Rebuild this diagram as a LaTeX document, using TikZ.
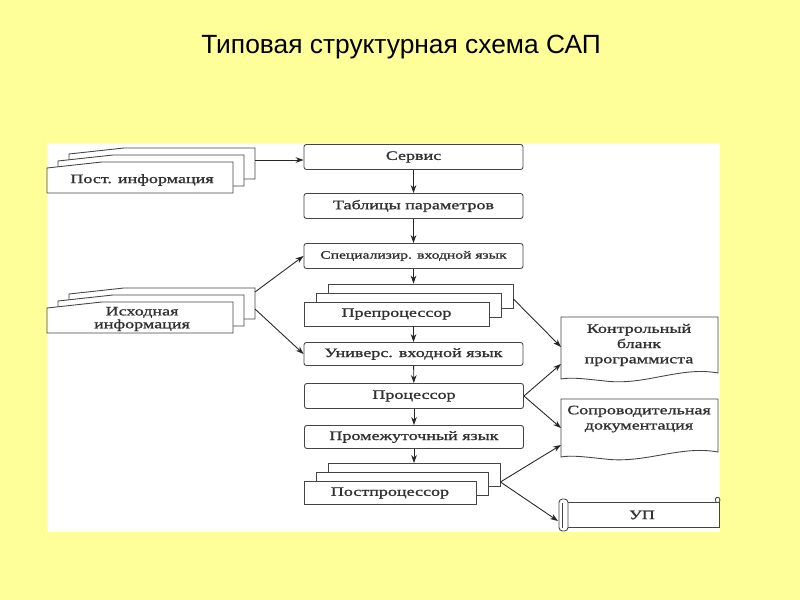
\documentclass[tikz,border=0pt]{standalone}
\usepackage{fontspec}
\setmainfont{Liberation Sans}
\newfontfamily\boxfont{Liberation Serif}[FakeStretch=1.4, FakeBold=1.2]
\usepackage{tikz}
\usetikzlibrary{positioning, shadows, calc, arrows.meta}

\definecolor{slide}{HTML}{FFFF99}
\definecolor{linec}{HTML}{454545}
\definecolor{textc}{HTML}{303030}

\newcommand{\pxu}{0.03cm}
% sheet with slanted top edge (input data)
\newcommand{\indoc}[2]{\filldraw[docline] (#1,#2) -- ++(0,-25) -- ++(55,-6) -- ++(131,0) -- ++(0,31) -- cycle;}

\tikzset{
  docline/.style={draw=linec, fill=white, line width=0.75pt},
  boxtext/.style={font=\boxfont\fontsize{11}{13}\selectfont, text=textc},
  blk/.style={docline, boxtext, rounded corners=2pt, minimum width=219*\pxu, minimum height=25*\pxu, inner sep=0pt},
  stackblk/.style={blk, rounded corners=0pt,
    copy shadow={shadow xshift=0.72cm, shadow yshift=0.54cm, fill=white, draw=linec, line width=0.75pt},
    copy shadow={shadow xshift=0.36cm, shadow yshift=0.27cm, fill=white, draw=linec, line width=0.75pt}},
  lbl/.style={boxtext, align=center, inner sep=0pt},
  arr/.style={-{Stealth[length=2.4mm,width=1.7mm]}, draw=black!85, line width=0.75pt},
}

\begin{document}
\begin{tikzpicture}[x=0.03cm, y=-0.03cm]
  \fill[slide] (0,0) rectangle (800,600);
  \useasboundingbox (0,0) rectangle (800,600);
  \node[font=\fontsize{22.5}{27}\selectfont] (title) at (401,47) {Типовая структурная схема САП};
  \fill[white] (47,143) rectangle (720,532);

  % central chain
  \node[blk] (serv) at (413.5,157) {Сервис};
  \node[blk] (tabl) at (413.5,206) {Таблицы параметров};
  \node[blk, font=\boxfont\fontsize{9.5}{11}\selectfont] (spec) at (413.5,256) {Специализир. входной язык};
  \node[stackblk, minimum width=185*\pxu, minimum height=24*\pxu] (pre) at (396.5,314) {Препроцессор};
  \node[blk, minimum height=23*\pxu] (univ) at (413.5,354) {Универс. входной язык};
  \node[blk] (proc) at (414,396) {Процессор};
  \node[blk, minimum height=23*\pxu] (prom) at (414,437) {Промежуточный язык};
  \node[stackblk, minimum width=172*\pxu, minimum height=23*\pxu] (post) at (390,493) {Постпроцессор};

  \coordinate (pretop) at ([yshift=0.54cm]pre.north);
  \coordinate (preout) at ([xshift=0.72cm, yshift=0.45cm]pre.east);
  \coordinate (posttop) at ([yshift=0.54cm]post.north);
  \coordinate (postout) at ([xshift=0.72cm, yshift=0.33cm]post.east);

  % input sheets
  \foreach \k in {2,1,0} {\indoc{47+11*\k}{193-7*\k}}
  \node[lbl] (pinf) at (142,180) {Пост. информация};
  \coordinate (pinfout) at (255,160);

  \foreach \k in {2,1,0} {\indoc{47+11*\k}{333-7*\k}}
  \node[lbl] (iinf) at (142,319) {Исходная\\[-2pt]информация};
  \coordinate (iinfup) at (255,292);
  \coordinate (iinfdn) at (255,309);

  % output documents
  \draw[docline] (561,317) -- (718,317) -- (718,373)
    .. controls (680,366) and (645,386) .. (605,381)
    .. controls (585,379) and (572,377) .. (561,379) -- cycle;
  \node[lbl] (kont) at (639,345) {Контрольный\\бланк\\программиста};
  \coordinate (kontA) at (561,347);
  \coordinate (kontB) at (561,364);

  \draw[docline] (561,399) -- (718,399) -- (718,452)
    .. controls (680,445) and (645,464) .. (605,459)
    .. controls (585,457) and (572,455) .. (561,457) -- cycle;
  \node[lbl] (sopr) at (639,419) {Сопроводительная\\документация};
  \coordinate (soprA) at (561,428);
  \coordinate (soprB) at (561,445);

  % scroll
  \filldraw[docline] (564,502) -- (719,502) -- (719,527) -- (564,527) -- cycle;
  \draw[docline] (716,502) .. controls (713,497) and (720,495) .. (720,500) -- (719,502);
  \filldraw[docline, rounded corners=3pt] (559,499) rectangle (568,531);
  \draw[docline] (562,503) -- (562,528);
  \node[lbl] (up) at (642,515) {УП};
  \coordinate (upA) at (558,521);

  % connectors
  \draw[arr] (pinfout) -- (pinfout -| serv.west);
  \draw[arr] (serv) -- (tabl);
  \draw[arr] (tabl) -- (spec);
  \draw[arr] (spec) -- (spec |- pretop);
  \draw[arr] (univ |- pre.south) -- (univ);
  \draw[arr] (univ) -- (proc);
  \draw[arr] (proc) -- (prom);
  \draw[arr] (prom) -- (prom |- posttop);
  \draw[arr] (iinfup) -- (spec.west);
  \draw[arr] (iinfdn) -- (univ.west);
  \draw[arr] (preout) -- (kontA);
  \draw[arr] (proc.east) -- (kontB);
  \draw[arr] (proc.east) -- (soprA);
  \draw[arr] (postout) -- (soprB);
  \draw[arr] (postout) -- (upA);
\end{tikzpicture}
\end{document}
